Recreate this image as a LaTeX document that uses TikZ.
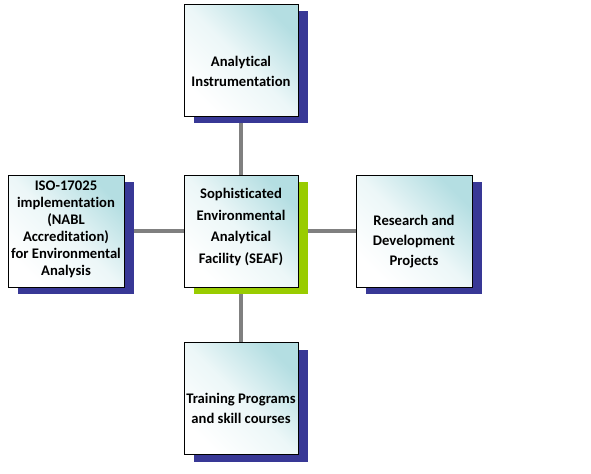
\documentclass[tikz,border=0pt]{standalone}
\usepackage{fontspec}
\setmainfont[Ligatures={NoCommon}]{Carlito}
\definecolor{seafteal}{RGB}{180,222,226}
\definecolor{seafnavy}{RGB}{56,56,150}
\definecolor{seafgreen}{RGB}{153,204,0}
\definecolor{linkgray}{RGB}{128,128,128}
\usetikzlibrary{shadows, backgrounds}

\begin{document}
\begin{tikzpicture}[
  seafbox/.style={draw=black, line width=0.6pt, minimum width=3.42cm, minimum height=3.36cm,
    top color=seafteal, bottom color=white, middle color=seafteal!25!white, shading angle=-45},
  boxshadow/.style={drop shadow={shadow xshift=0.3cm, shadow yshift=-0.22cm, fill=#1, opacity=1}},
  boxshadow/.default=seafnavy,
  boxtext/.style={align=center, inner sep=0pt, font=\bfseries\fontsize{12.5}{#1}\selectfont},
  boxtext/.default=17,
  link/.style={draw=linkgray, line width=3pt}
]
  \useasboundingbox (0,0) rectangle (17.73,-14.19);

  % boxes
  \node[seafbox, boxshadow=seafgreen] (seaf) at (7.23,-6.93) {};
  \node[seafbox, boxshadow] (instr) at (7.23,-1.80) {};
  \node[seafbox, boxshadow, minimum width=3.48cm] (iso) at (1.98,-6.93) {};
  \node[seafbox, boxshadow, minimum width=3.48cm] (rnd) at (12.42,-6.93) {};
  \node[seafbox, boxshadow] (train) at (7.23,-11.96) {};

  % texts
  \node[boxtext=18.5] (seaftxt) at ([yshift=0.12cm]seaf.center)
    {Sophisticated\\Environmental\\Analytical\\Facility (SEAF)};
  \node[boxtext] (instrtxt) at ([yshift=-0.33cm]instr.center) {Analytical\\Instrumentation};
  \node[boxtext=14.6] (isotxt) at ([yshift=0.05cm]iso.center)
    {ISO-17025\\implementation\\(NABL\\Accreditation)\\for Environmental\\Analysis};
  \node[boxtext] (rndtxt) at ([yshift=-0.33cm]rnd.center) {Research and\\Development\\Projects};
  \node[boxtext] (traintxt) at ([yshift=-0.3cm]train.center) {Training Programs\\and skill courses};

  % connectors behind the boxes
  \begin{scope}[on background layer]
    \draw[link] (instr) -- (seaf);
    \draw[link] (iso) -- (seaf);
    \draw[link] (seaf) -- (rnd);
    \draw[link] (seaf) -- (train);
  \end{scope}
\end{tikzpicture}
\end{document}
